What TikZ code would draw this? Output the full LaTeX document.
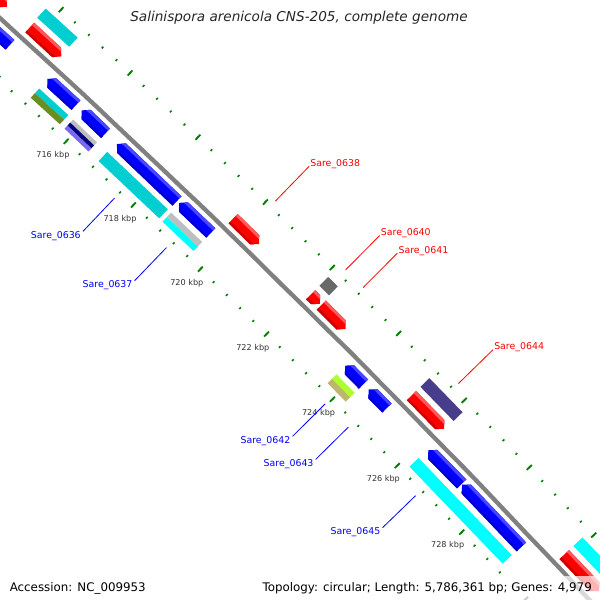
\documentclass[tikz,border=0pt]{standalone}
\usepackage{fontspec}
\setmainfont{DejaVu Sans}
\definecolor{genered}{RGB}{255,0,0}
\definecolor{geneblue}{RGB}{0,0,255}
\definecolor{cogcyan}{RGB}{0,206,209}
\definecolor{coglcyan}{RGB}{0,255,255}
\definecolor{cogolive}{RGB}{107,142,35}
\definecolor{coggrey}{RGB}{105,105,105}
\definecolor{coglgrey}{RGB}{190,190,190}
\definecolor{cognavy}{RGB}{0,0,128}
\definecolor{coglav}{RGB}{123,104,238}
\definecolor{cogslate}{RGB}{72,61,139}
\definecolor{coglime}{RGB}{173,255,47}
\definecolor{cogkhaki}{RGB}{189,183,107}
\definecolor{tickgreen}{RGB}{0,128,0}
\definecolor{labgrey}{RGB}{51,51,51}

\tikzstyle{backbone} = [draw=gray, line width=4.3pt]
\tikzstyle{majtick} = [draw=tickgreen, line width=1.8pt]
\tikzstyle{mintick} = [draw=tickgreen, line width=1.6pt]
\tikzstyle{kbp} = [text=labgrey, inner sep=0pt, font=\fontsize{8.1}{9}\selectfont]
\tikzstyle{fwdlead} = [draw=red, line width=0.8pt]
\tikzstyle{revlead} = [draw=blue, line width=0.8pt]
\tikzstyle{fwdlab} = [text=red, anchor=base west, inner sep=1pt, font=\fontsize{9.4}{11}\selectfont]
\tikzstyle{revlab} = [text=blue, anchor=north east, inner xsep=2pt, inner ysep=0pt, font=\fontsize{9.4}{11}\selectfont]
\tikzstyle{legend} = [fill=white, fill opacity=0.7, text opacity=1, inner xsep=8pt, inner ysep=6pt, font=\fontsize{11.85}{14}\selectfont]

% angle of a position in kbp, radius of the backbone
\newcommand{\ang}[1]{-45+0.26337*(#1-723.364)}
\newcommand{\Rb}{10129}
\newcommand{\band}[5]{\fill[#5] ({\ang{#1}}:{\Rb+(#3)}) -- ({\ang{#2}}:{\Rb+(#3)}) -- ({\ang{#2}}:{\Rb+(#4)}) -- ({\ang{#1}}:{\Rb+(#4)}) -- cycle;}
\newcommand{\fwdgene}[3]{%
  \begin{scope}
    \clip ({\ang{#1}}:{\Rb+6.5}) -- ({\ang{#2-0.13}}:{\Rb+6.5}) -- ({\ang{#2}}:{\Rb+13}) -- ({\ang{#2-0.13}}:{\Rb+19.5}) -- ({\ang{#1}}:{\Rb+19.5}) -- cycle;
    \band{#1-0.2}{#2+0.2}{5}{21}{#3}
    \band{#1-0.2}{#2+0.2}{16.5}{21}{#3!65!white}
    \band{#1-0.2}{#2+0.2}{5}{9}{#3!80!black}
  \end{scope}}
\newcommand{\revgene}[3]{%
  \begin{scope}
    \clip ({\ang{#1}}:{\Rb-13}) -- ({\ang{#1+0.13}}:{\Rb-6.5}) -- ({\ang{#2}}:{\Rb-6.5}) -- ({\ang{#2}}:{\Rb-19.5}) -- ({\ang{#1+0.13}}:{\Rb-19.5}) -- cycle;
    \band{#1-0.2}{#2+0.2}{-21}{-5}{#3}
    \band{#1-0.2}{#2+0.2}{-9.5}{-5}{#3!72!white}
    \band{#1-0.2}{#2+0.2}{-21}{-17}{#3!80!black}
  \end{scope}}
\newcommand{\cog}[5]{\band{#1}{#2}{#3}{#4}{#5}}

\begin{document}
\begin{tikzpicture}[x=1pt,y=-1pt]
  \useasboundingbox (0,0) rectangle (600,600);
  \fill[white] (0,0) rectangle (600,600);
  \clip (0,0) rectangle (600,600);

  \begin{scope}[shift={(-6818,7508)}]
    % tick rings
    \foreach \k in {712,712.4,...,732} {
      \draw[mintick] ({\ang{\k}}:{\Rb+46.3}) -- ({\ang{\k}}:{\Rb+48.7});
      \draw[mintick] ({\ang{\k}}:{\Rb-47.2}) -- ({\ang{\k}}:{\Rb-44.8});
    }
    \foreach \k in {712,714,...,732} {
      \draw[majtick] ({\ang{\k}}:{\Rb+44}) -- ({\ang{\k}}:{\Rb+51});
      \draw[majtick] ({\ang{\k}}:{\Rb-49.5}) -- ({\ang{\k}}:{\Rb-42.5});
    }
    \foreach \k in {716,718,...,728}
      \node[kbp] (t\k) at ({\ang{\k}}:{\Rb-65.5}) {\k\ kbp};

    % backbone
    \draw[backbone] plot[domain=710:733, samples=47] ({\ang{\x}}:{\Rb});

    % forward strand genes
    \fwdgene{711.0}{713.1}{genered}
    \fwdgene{713.76}{714.68}{genered}
    \fwdgene{719.75}{720.53}{genered}
    \fwdgene{722.08}{722.36}{genered}
    \fwdgene{722.40}{723.13}{genered}
    \fwdgene{725.14}{726.14}{genered}
    \fwdgene{729.87}{730.95}{genered}
    % forward COG ring
    \cog{713.74}{714.66}{25.5}{38}{cogcyan}
    \cog{722.08}{722.37}{25.5}{38}{coggrey}
    \cog{725.14}{726.16}{25.5}{38}{cogslate}
    \cog{729.87}{730.95}{25.5}{38}{coglcyan}

    % reverse strand genes
    \revgene{711.5}{713.7}{geneblue}
    \revgene{714.79}{715.62}{geneblue}
    \revgene{715.79}{716.50}{geneblue}
    \revgene{716.84}{718.62}{geneblue}
    \revgene{718.68}{719.62}{geneblue}
    \revgene{723.68}{724.24}{geneblue}
    \revgene{724.40}{724.96}{geneblue}
    \revgene{726.23}{727.25}{geneblue}
    \revgene{727.27}{729.12}{geneblue}
    % reverse COG ring
    \cog{714.80}{715.65}{-31.75}{-25.5}{cogcyan}
    \cog{714.80}{715.65}{-38}{-31.75}{cogolive}
    \cog{715.79}{716.50}{-29.7}{-25.5}{coglgrey}
    \cog{715.79}{716.50}{-33.8}{-29.7}{cognavy}
    \cog{715.79}{716.50}{-38}{-33.8}{coglav}
    \cog{716.80}{718.60}{-38}{-25.5}{cogcyan}
    \cog{718.70}{719.62}{-31.75}{-25.5}{coglgrey}
    \cog{718.70}{719.62}{-38}{-31.75}{coglcyan}
    \cog{723.68}{724.24}{-31.75}{-25.5}{coglime}
    \cog{723.68}{724.24}{-38}{-31.75}{cogkhaki}
    \cog{726.20}{729.10}{-38}{-25.5}{coglcyan}

    % labels, forward
    \coordinate (p0638) at ({\ang{720.14}}:{\Rb+55});
    \node[fwdlab] (s0638) at ({\ang{720.14}}:{\Rb+103.5}) {Sare\_0638};
    \draw[fwdlead] (p0638) -- (s0638.base west);
    \coordinate (p0640) at ({\ang{722.24}}:{\Rb+55});
    \node[fwdlab] (s0640) at ({\ang{722.24}}:{\Rb+103.5}) {Sare\_0640};
    \draw[fwdlead] (p0640) -- (s0640.base west);
    \coordinate (p0641) at ({\ang{722.77}}:{\Rb+55});
    \node[fwdlab] (s0641) at ({\ang{722.77}}:{\Rb+103.5}) {Sare\_0641};
    \draw[fwdlead] (p0641) -- (s0641.base west);
    \coordinate (p0644) at ({\ang{725.66}}:{\Rb+55});
    \node[fwdlab] (s0644) at ({\ang{725.66}}:{\Rb+103.5}) {Sare\_0644};
    \draw[fwdlead] (p0644) -- (s0644.base west);

    % labels, reverse
    \coordinate (p0636) at ({\ang{717.6}}:{\Rb-54});
    \node[revlab] (s0636) at ({\ang{717.6}}:{\Rb-100}) {Sare\_0636};
    \draw[revlead] (p0636) -- (s0636.north east);
    \coordinate (p0637) at ({\ang{719.15}}:{\Rb-54});
    \node[revlab] (s0637) at ({\ang{719.15}}:{\Rb-100}) {Sare\_0637};
    \draw[revlead] (p0637) -- (s0637.north east);
    \coordinate (p0642) at ({\ang{723.96}}:{\Rb-54});
    \node[revlab] (s0642) at ({\ang{723.96}}:{\Rb-100}) {Sare\_0642};
    \draw[revlead] (p0642) -- (s0642.north east);
    \coordinate (p0643) at ({\ang{724.67}}:{\Rb-54});
    \node[revlab] (s0643) at ({\ang{724.67}}:{\Rb-100}) {Sare\_0643};
    \draw[revlead] (p0643) -- (s0643.north east);
    \coordinate (p0645) at ({\ang{726.74}}:{\Rb-54});
    \node[revlab] (s0645) at ({\ang{726.74}}:{\Rb-100}) {Sare\_0645};
    \draw[revlead] (p0645) -- (s0645.north east);
  \end{scope}

  \node[text=black!85, font=\itshape\fontsize{13.6}{16}\selectfont] (title) at (299,18) {Salinispora arenicola CNS-205, complete genome};
  \node[legend, anchor=base west] (acc) at (1.6,591.3) {Accession: NC\_009953};
  \node[legend, anchor=base east] (topo) at (600,591.3) {Topology: circular; Length: 5,786,361 bp; Genes: 4,979};
\end{tikzpicture}
\end{document}
